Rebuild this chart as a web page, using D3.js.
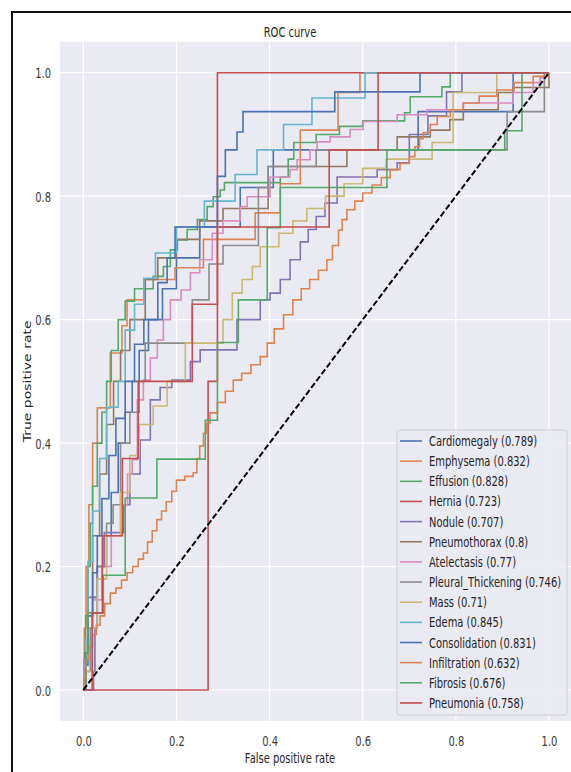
<!DOCTYPE html>
<html>
<head>
<meta charset="utf-8">
<script src="https://cdn.jsdelivr.net/npm/d3@7"></script>
<style>
  body { margin: 0; background: #fff; }
  svg { display: block; font-family: 'DejaVu Sans', sans-serif; }
</style>
</head>
<body>
<svg id="roc-chart" width="571" height="772"></svg>
<script>
// Class names and AUC shown in the legend
const classNames = ['Cardiomegaly', 'Emphysema', 'Effusion', 'Hernia', 'Nodule', 'Pneumothorax', 'Atelectasis',
  'Pleural_Thickening', 'Mass', 'Edema', 'Consolidation', 'Infiltration', 'Fibrosis', 'Pneumonia'];
const aucValues = ['0.789', '0.832', '0.828', '0.723', '0.707', '0.8', '0.77', '0.746', '0.71', '0.845',
  '0.831', '0.632', '0.676', '0.758'];
const xTicks = [0, 0.2, 0.4, 0.6, 0.8, 1.0];
const yTicks = [0, 0.2, 0.4, 0.6, 0.8, 1.0];

// ROC points [fpr, tpr] (top of each rise)
const rocCardiomegaly = [[0,0],[0.005,0.04],[0.01,0.1],[0.02,0.15],[0.03,0.2],[0.045,0.25],[0.06,0.32],[0.075,0.4],
  [0.09,0.45],[0.105,0.5],[0.12,0.55],[0.14,0.6],[0.17,0.65],[0.2,0.7],[0.25,0.75],[0.337,0.814],[0.408,0.875],
  [0.719,0.937],[0.923,1],[1,1]];
const rocEmphysema = [[0,0],[0.002,0.1],[0.006,0.2],[0.012,0.3],[0.02,0.4],[0.03,0.457],[0.058,0.546],[0.083,0.59],
  [0.094,0.632],[0.133,0.665],[0.197,0.684],[0.258,0.73],[0.369,0.773],[0.423,0.82],[0.466,0.907],[0.547,0.968],
  [0.594,1],[1,1]];
const rocEffusion = [[0,0],[0.002,0.05],[0.005,0.12],[0.01,0.2],[0.015,0.27],[0.02,0.33],[0.03,0.4],[0.04,0.45],
  [0.05,0.5],[0.06,0.55],[0.075,0.6],[0.09,0.63],[0.11,0.65],[0.15,0.67],[0.172,0.686],[0.187,0.713],[0.202,0.729],
  [0.223,0.746],[0.245,0.762],[0.266,0.783],[0.279,0.799],[0.294,0.81],[0.303,0.822],[0.423,0.831],[0.44,0.86],
  [0.452,0.887],[0.5,0.9],[0.55,0.913],[0.6,0.922],[0.69,0.935],[0.702,0.961],[0.77,0.977],[0.788,1],[1,1]];
const rocHernia = [[0,0],[0.268,0.5],[0.288,1],[1,1]];
const rocNodule = [[0,0],[0.022,0.03],[0.025,0.1],[0.03,0.2],[0.045,0.255],[0.087,0.3],[0.1,0.35],[0.122,0.405],
  [0.144,0.47],[0.165,0.49],[0.19,0.502],[0.23,0.532],[0.251,0.551],[0.33,0.6],[0.38,0.632],[0.401,0.643],
  [0.423,0.665],[0.444,0.697],[0.466,0.726],[0.483,0.746],[0.5,0.767],[0.519,0.789],[0.545,0.831],[0.631,0.843],
  [0.674,0.854],[0.7,0.9],[0.74,0.93],[0.78,0.969],[0.813,1],[1,1]];
const rocPneumothorax = [[0,0],[0.003,0.06],[0.01,0.15],[0.02,0.25],[0.035,0.35],[0.05,0.43],[0.065,0.5],[0.08,0.55],
  [0.1,0.6],[0.133,0.665],[0.16,0.7],[0.2,0.73],[0.25,0.76],[0.3,0.78],[0.397,0.848],[0.566,0.875],[0.674,0.896],
  [0.745,0.907],[0.787,0.924],[0.816,0.94],[0.891,0.968],[0.923,0.976],[1,1]];
const rocAtelectasis = [[0,0],[0.003,0.05],[0.01,0.1],[0.02,0.146],[0.04,0.2],[0.06,0.25],[0.08,0.3],[0.095,0.35],
  [0.105,0.373],[0.116,0.47],[0.129,0.502],[0.144,0.538],[0.159,0.567],[0.172,0.6],[0.187,0.632],[0.21,0.648],
  [0.23,0.676],[0.25,0.697],[0.277,0.74],[0.3,0.76],[0.337,0.783],[0.352,0.799],[0.401,0.831],[0.444,0.843],
  [0.459,0.859],[0.487,0.875],[0.502,0.888],[0.53,0.896],[0.573,0.908],[0.601,0.921],[0.674,0.932],[0.738,0.94],
  [0.816,0.951],[0.923,0.968],[0.966,0.984],[0.981,0.992],[0.99,1],[1,1]];
const rocPleuralThickening = [[0,0],[0.005,0.03],[0.015,0.1],[0.03,0.2],[0.05,0.27],[0.064,0.3],[0.08,0.4],[0.1,0.45],
  [0.12,0.5],[0.133,0.562],[0.234,0.632],[0.27,0.69],[0.3,0.72],[0.376,0.814],[0.397,0.848],[0.5,0.875],
  [0.91,0.937],[0.99,1],[1,1]];
const rocMass = [[0,0],[0.005,0.03],[0.02,0.1],[0.03,0.18],[0.05,0.25],[0.08,0.32],[0.1,0.38],[0.12,0.43],[0.15,0.46],
  [0.18,0.5],[0.219,0.562],[0.3,0.6],[0.32,0.643],[0.341,0.665],[0.363,0.686],[0.38,0.718],[0.42,0.74],[0.45,0.76],
  [0.48,0.78],[0.52,0.8],[0.56,0.82],[0.6,0.845],[0.65,0.86],[0.749,0.887],[0.794,0.968],[0.888,1],[1,1]];
const rocEdema = [[0,0],[0.005,0.083],[0.01,0.208],[0.02,0.29],[0.035,0.375],[0.05,0.458],[0.075,0.5],[0.09,0.583],
  [0.11,0.625],[0.13,0.667],[0.155,0.708],[0.2,0.75],[0.26,0.792],[0.326,0.835],[0.373,0.875],[0.43,0.916],
  [0.491,0.959],[0.605,1],[1,1]];
const rocConsolidation = [[0,0],[0.005,0.06],[0.01,0.12],[0.02,0.19],[0.03,0.25],[0.04,0.31],[0.055,0.38],[0.07,0.44],
  [0.09,0.5],[0.11,0.56],[0.13,0.6],[0.16,0.66],[0.18,0.7],[0.197,0.75],[0.288,0.832],[0.305,0.875],[0.33,0.904],
  [0.343,0.937],[0.54,0.969],[0.723,1],[1,1]];
const rocInfiltration = [[0,0],[0.002,0.02],[0.006,0.05],[0.012,0.07],[0.02,0.09],[0.028,0.105],[0.036,0.12],
  [0.046,0.14],[0.058,0.157],[0.07,0.165],[0.082,0.178],[0.094,0.19],[0.106,0.2],[0.118,0.212],[0.129,0.222],
  [0.138,0.24],[0.148,0.258],[0.158,0.276],[0.168,0.29],[0.178,0.305],[0.19,0.322],[0.2,0.34],[0.218,0.346],
  [0.236,0.352],[0.244,0.375],[0.25,0.395],[0.258,0.416],[0.265,0.432],[0.272,0.449],[0.288,0.466],[0.305,0.484],
  [0.322,0.502],[0.34,0.513],[0.36,0.527],[0.38,0.54],[0.395,0.562],[0.41,0.585],[0.43,0.608],[0.45,0.632],
  [0.468,0.65],[0.486,0.665],[0.505,0.68],[0.523,0.697],[0.535,0.72],[0.548,0.745],[0.556,0.762],[0.566,0.778],
  [0.583,0.792],[0.6,0.805],[0.62,0.818],[0.64,0.83],[0.659,0.843],[0.68,0.853],[0.7,0.864],[0.712,0.88],
  [0.722,0.893],[0.73,0.903],[0.745,0.916],[0.76,0.929],[0.788,0.94],[0.816,0.951],[0.85,0.962],[0.888,0.972],
  [0.925,0.984],[0.966,0.994],[1,1]];
const rocFibrosis = [[0,0],[0.005,0.06],[0.01,0.125],[0.043,0.186],[0.09,0.311],[0.158,0.374],[0.262,0.437],
  [0.288,0.563],[0.333,0.632],[0.395,0.749],[0.423,0.814],[0.652,0.875],[0.905,0.906],[0.942,1],[1,1]];
const rocPneumonia = [[0,0],[0.019,0.125],[0.041,0.25],[0.084,0.375],[0.118,0.5],[0.234,0.625],[0.288,0.75],
  [0.528,0.875],[0.633,1],[1,1]];

const rocSeries = [rocCardiomegaly, rocEmphysema, rocEffusion, rocHernia, rocNodule, rocPneumothorax, rocAtelectasis,
  rocPleuralThickening, rocMass, rocEdema, rocConsolidation, rocInfiltration, rocFibrosis, rocPneumonia];

// seaborn "deep" palette
const palette = ['#4c72b0', '#dd8452', '#55a868', '#c44e52', '#8172b3', '#937860', '#da8bc1', '#8c8c8c', '#ccb974', '#64b5cd'];

const svg = d3.select('#roc-chart');
const fontSize = 14;
const squish = 'scale(0.71,1)';   // the source picture is squeezed horizontally

const x = d3.scaleLinear().domain([0, 1]).range([83.3, 549]);
const y = d3.scaleLinear().domain([0, 1]).range([690, 72.7]);

// outer frame (left + top edges visible)
svg.append('path')
  .attr('d', 'M12,772V12H571')
  .attr('fill', 'none')
  .attr('stroke', '#111')
  .attr('stroke-width', 2);

// axes background
svg.append('rect')
  .attr('x', x(-0.05))
  .attr('y', y(1.05))
  .attr('width', x(1.05) - x(-0.05))
  .attr('height', y(-0.05) - y(1.05))
  .attr('fill', '#eaeaf2');

// grid
const grid = svg.append('g').attr('stroke', '#fff').attr('stroke-width', 1.2);
grid.selectAll('.gx').data(xTicks).join('line')
  .attr('x1', d => x(d)).attr('x2', d => x(d))
  .attr('y1', y(-0.05)).attr('y2', y(1.05));
grid.selectAll('.gy').data(yTicks).join('line')
  .attr('x1', x(-0.05)).attr('x2', x(1.05))
  .attr('y1', d => y(d)).attr('y2', d => y(d));

// axes
const gx = svg.append('g')
  .attr('transform', `translate(0, ${y(-0.05)})`)
  .call(d3.axisBottom(x).tickValues(xTicks).tickSize(0).tickFormat(d3.format('.1f')));
const gy = svg.append('g')
  .attr('transform', `translate(${x(-0.05)}, 0)`)
  .call(d3.axisLeft(y).tickValues(yTicks).tickSize(0).tickFormat(d3.format('.1f')));

[gx, gy].forEach(g => {
  g.select('.domain').remove();
  g.attr('font-size', fontSize).attr('font-family', "'DejaVu Sans', sans-serif");
  g.selectAll('text').attr('fill', '#3a3a3a').attr('x', 0).attr('y', 0).attr('dy', null);
});
gx.selectAll('text').attr('transform', `translate(0, 25.5) ${squish}`);
gy.selectAll('text').attr('transform', `translate(-9, 5) ${squish}`);

// titles
svg.append('text')
  .attr('transform', `translate(290, 36.5) ${squish}`)
  .attr('text-anchor', 'middle')
  .attr('font-size', fontSize)
  .attr('fill', '#262626')
  .text('ROC curve');

svg.append('text')
  .attr('transform', `translate(290, 762.5) ${squish}`)
  .attr('text-anchor', 'middle')
  .attr('font-size', fontSize)
  .attr('fill', '#262626')
  .text('False positive rate');

svg.append('text')
  .attr('transform', `translate(31, ${(y(-0.05) + y(1.05)) / 2}) ${squish} rotate(-90)`)
  .attr('text-anchor', 'middle')
  .attr('font-size', fontSize)
  .attr('fill', '#262626')
  .text('True positive rate');

// ROC curves
const line = d3.line()
  .x(d => x(d[0]))
  .y(d => y(d[1]))
  .curve(d3.curveStepAfter);

svg.append('g')
  .selectAll('path')
  .data(rocSeries)
  .join('path')
  .attr('d', line)
  .attr('fill', 'none')
  .attr('stroke', (d, i) => palette[i % palette.length])
  .attr('stroke-width', 1.6);

// chance line
svg.append('path')
  .attr('d', d3.line().x(d => x(d[0])).y(d => y(d[1]))([[0, 0], [1, 1]]))
  .attr('fill', 'none')
  .attr('stroke', '#000')
  .attr('stroke-width', 2)
  .attr('stroke-dasharray', '6,2.6');

// legend
const legend = svg.append('g');
legend.append('rect')
  .attr('x', 397).attr('y', 430)
  .attr('width', 170).attr('height', 285)
  .attr('rx', 3)
  .attr('fill', '#eaeaf2').attr('fill-opacity', 0.85)
  .attr('stroke', '#cfcfd6');

const rowY = i => 441 + i * 20.15;
const entries = legend.selectAll('.entry')
  .data(classNames)
  .join('g')
  .attr('class', 'entry');
entries.append('line')
  .attr('x1', 400).attr('x2', 422)
  .attr('y1', (d, i) => rowY(i)).attr('y2', (d, i) => rowY(i))
  .attr('stroke', (d, i) => palette[i % palette.length])
  .attr('stroke-width', 1.6);
entries.append('text')
  .attr('transform', (d, i) => `translate(429, ${rowY(i) + 5}) ${squish}`)
  .attr('font-size', fontSize)
  .attr('fill', '#262626')
  .text((d, i) => `${d} (${aucValues[i]})`);
</script>
</body>
</html>
